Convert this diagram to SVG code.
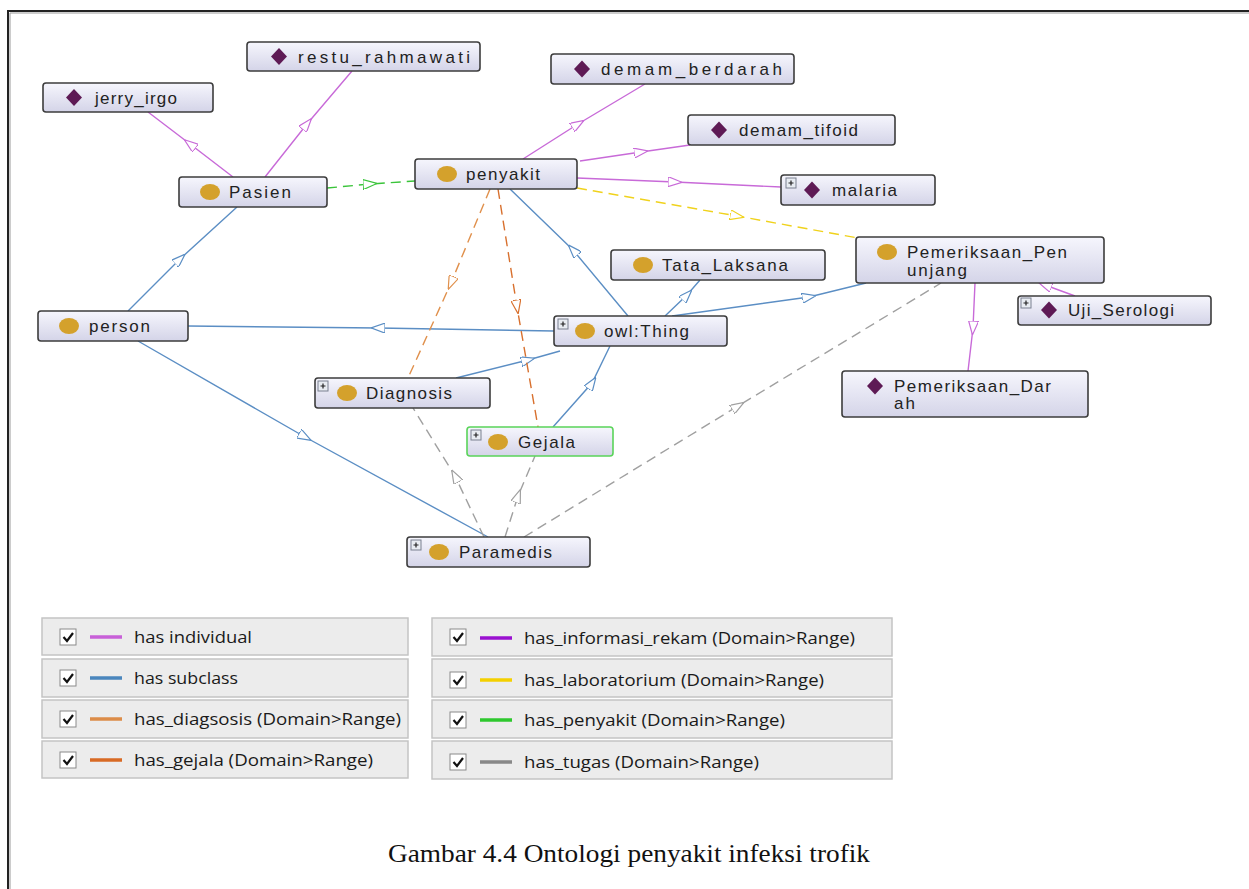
<svg xmlns="http://www.w3.org/2000/svg" width="1249" height="889" viewBox="0 0 1249 889">
<style>
.node rect.box{fill:url(#ng);stroke:#3c3c3c;stroke-width:1.6}
.lbl{font-family:"Liberation Sans",Arial,sans-serif;font-size:17px;fill:#222}
.cls{fill:#d4a12c}
.ind{fill:#5e1a55}
.plus rect{fill:#e8ecf2;stroke:#7a8090;stroke-width:1}
.plus path{stroke:#222;stroke-width:1.2}
.e{fill:none;stroke-width:1.4}
.d{stroke-dasharray:10 6}
.vi{stroke:#c86ad8;marker-mid:url(#mvi)}
.bl{stroke:#5b8ec4;marker-mid:url(#mbl)}
.o1{stroke:#e0904c;marker-mid:url(#mo1)}
.o2{stroke:#d8702e;marker-mid:url(#mo2)}
.ye{stroke:#f0d21c;marker-mid:url(#mye)}
.gr{stroke:#3ac43a;marker-mid:url(#mgr)}
.gy{stroke:#a0a0a0;marker-mid:url(#mgy)}
.panel{fill:#ececec;stroke:#c4c4c4;stroke-width:1.5}
.chk{fill:#fff;stroke:#8a8a8a;stroke-width:1}
.tick{fill:none;stroke:#111;stroke-width:2.2}
.ltx{font-family:"Open Sans","Noto Sans",sans-serif;font-size:16.5px;fill:#1a1a1a}
</style>
<defs>
<linearGradient id="ng" x1="0" y1="0" x2="0" y2="1">
<stop offset="0" stop-color="#f6f6fd"/>
<stop offset="1" stop-color="#d4d4e8"/>
</linearGradient>
<marker id="mvi" viewBox="0 0 14 10" refX="7" refY="5" markerWidth="14" markerHeight="10" markerUnits="userSpaceOnUse" orient="auto"><path d="M0,0 L14,5 L0,10 z" fill="#fff" stroke="#c86ad8" stroke-width="1.2"/></marker>
<marker id="mbl" viewBox="0 0 14 10" refX="7" refY="5" markerWidth="14" markerHeight="10" markerUnits="userSpaceOnUse" orient="auto"><path d="M0,0 L14,5 L0,10 z" fill="#fff" stroke="#5b8ec4" stroke-width="1.2"/></marker>
<marker id="mo1" viewBox="0 0 14 10" refX="7" refY="5" markerWidth="14" markerHeight="10" markerUnits="userSpaceOnUse" orient="auto"><path d="M0,0 L14,5 L0,10 z" fill="#fff" stroke="#e0904c" stroke-width="1.2"/></marker>
<marker id="mo2" viewBox="0 0 14 10" refX="7" refY="5" markerWidth="14" markerHeight="10" markerUnits="userSpaceOnUse" orient="auto"><path d="M0,0 L14,5 L0,10 z" fill="#fff" stroke="#d8702e" stroke-width="1.2"/></marker>
<marker id="mye" viewBox="0 0 14 10" refX="7" refY="5" markerWidth="14" markerHeight="10" markerUnits="userSpaceOnUse" orient="auto"><path d="M0,0 L14,5 L0,10 z" fill="#fff" stroke="#f0d21c" stroke-width="1.2"/></marker>
<marker id="mgr" viewBox="0 0 14 10" refX="7" refY="5" markerWidth="14" markerHeight="10" markerUnits="userSpaceOnUse" orient="auto"><path d="M0,0 L14,5 L0,10 z" fill="#fff" stroke="#3ac43a" stroke-width="1.2"/></marker>
<marker id="mgy" viewBox="0 0 14 10" refX="7" refY="5" markerWidth="14" markerHeight="10" markerUnits="userSpaceOnUse" orient="auto"><path d="M0,0 L14,5 L0,10 z" fill="#fff" stroke="#a0a0a0" stroke-width="1.2"/></marker>
<g id="plusicon" class="plus"><rect x="0" y="0" width="10" height="10"/><path d="M2.5,5 H7.5 M5,2.5 V7.5"/></g>
</defs>
<rect width="1249" height="889" fill="#fff"/>
<path d="M8,889 V11 H1249" fill="none" stroke="#222" stroke-width="2"/>
<path d="M10,889 V13 H1249" fill="none" stroke="#999" stroke-width="1"/>

<g id="connectors">
<path class="e vi" d="M233,177 L190,144 L148,112"/>
<path class="e vi" d="M265,177 L307,124 L352,71"/>
<path class="e vi" d="M523,159 L578,124 L645,84"/>
<path class="e vi" d="M580,161 L641,152 L690,145"/>
<path class="e vi" d="M577,178 L675,182 L781,187"/>
<path class="e vi" d="M975,283 L973,328 L968,371"/>
<path class="e vi" d="M1075,296 L1045,285 L1040,283"/>
<path class="e bl" d="M128,311 L180,259 L237,207"/>
<path class="e bl" d="M554,331 L378,328 L188,326"/>
<path class="e bl" d="M628,316 L573,250 L510,189"/>
<path class="e bl" d="M665,316 L687,295 L700,280"/>
<path class="e bl" d="M672,316 L809,297 L866,283"/>
<path class="e bl" d="M456,378 L528,360 L560,351"/>
<path class="e bl" d="M553,427 L592,383 L610,346"/>
<path class="e bl" d="M138,341 L305,437 L488,537"/>
<path class="e d o1" d="M490,189 L451,283 L408,378"/>
<path class="e d o2" d="M498,189 L517,307 L538,427"/>
<path class="e d ye" d="M577,188 L737,216 L858,238"/>
<path class="e d gr" d="M327,188 L370,184 L415,181"/>
<path class="e d gy" d="M484,537 L455,476 L413,408"/>
<path class="e d gy" d="M505,537 L518,496 L535,456"/>
<path class="e d gy" d="M524,537 L738,406 L941,283"/>
</g>

<g id="n-restu" class="node"><rect class="box" x="247" y="42" width="233" height="29" rx="3"/><path class="ind" d="M279,48 L287,56.5 L279,65 L271,56.5 z"/><text class="lbl" x="298" y="62.5" textLength="172" lengthAdjust="spacing">restu_rahmawati</text></g>
<g id="n-jerry" class="node"><rect class="box" x="43" y="83" width="170" height="29" rx="3"/><path class="ind" d="M74,89 L82,97.5 L74,106 L66,97.5 z"/><text class="lbl" x="95" y="103.5" textLength="82" lengthAdjust="spacing">jerry_irgo</text></g>
<g id="n-pasien" class="node"><rect class="box" x="179" y="177" width="148" height="30" rx="3"/><ellipse class="cls" cx="210" cy="192" rx="10" ry="8"/><text class="lbl" x="229" y="198" textLength="62" lengthAdjust="spacing">Pasien</text></g>
<g id="n-penyakit" class="node"><rect class="box" x="415" y="159" width="162" height="30" rx="3"/><ellipse class="cls" cx="447" cy="174" rx="10" ry="8"/><text class="lbl" x="466" y="180" textLength="74" lengthAdjust="spacing">penyakit</text></g>
<g id="n-dberdarah" class="node"><rect class="box" x="551" y="54" width="243" height="30" rx="3"/><path class="ind" d="M582,60.5 L590,69 L582,77.5 L574,69 z"/><text class="lbl" x="601" y="75" textLength="181" lengthAdjust="spacing">demam_berdarah</text></g>
<g id="n-dtifoid" class="node"><rect class="box" x="688" y="115" width="207" height="30" rx="3"/><path class="ind" d="M719,121.5 L727,130 L719,138.5 L711,130 z"/><text class="lbl" x="739" y="136" textLength="119" lengthAdjust="spacing">demam_tifoid</text></g>
<g id="n-malaria" class="node"><rect class="box" x="781" y="175" width="154" height="30" rx="3"/><use href="#plusicon" x="786" y="178"/><path class="ind" d="M812,181.5 L820,190 L812,198.5 L804,190 z"/><text class="lbl" x="832" y="196" textLength="65" lengthAdjust="spacing">malaria</text></g>
<g id="n-penunjang" class="node"><rect class="box" x="856" y="237" width="248" height="46" rx="3"/><ellipse class="cls" cx="887" cy="252" rx="10" ry="8"/><text class="lbl" x="907" y="258" textLength="160" lengthAdjust="spacing">Pemeriksaan_Pen</text><text class="lbl" x="907" y="276" textLength="60" lengthAdjust="spacing">unjang</text></g>
<g id="n-tata" class="node"><rect class="box" x="611" y="250" width="214" height="30" rx="3"/><ellipse class="cls" cx="643" cy="265" rx="10" ry="8"/><text class="lbl" x="662" y="271" textLength="126" lengthAdjust="spacing">Tata_Laksana</text></g>
<g id="n-person" class="node"><rect class="box" x="38" y="311" width="150" height="30" rx="3"/><ellipse class="cls" cx="69" cy="326" rx="10" ry="8"/><text class="lbl" x="89" y="332" textLength="61" lengthAdjust="spacing">person</text></g>
<g id="n-thing" class="node"><rect class="box" x="554" y="316" width="173" height="30" rx="3"/><use href="#plusicon" x="558" y="319"/><ellipse class="cls" cx="585" cy="331" rx="10" ry="8"/><text class="lbl" x="604" y="337" textLength="85" lengthAdjust="spacing">owl:Thing</text></g>
<g id="n-uji" class="node"><rect class="box" x="1018" y="296" width="193" height="29" rx="3"/><use href="#plusicon" x="1021" y="298"/><path class="ind" d="M1049,301.5 L1057,310 L1049,318.5 L1041,310 z"/><text class="lbl" x="1068" y="316" textLength="106" lengthAdjust="spacing">Uji_Serologi</text></g>
<g id="n-diagnosis" class="node"><rect class="box" x="315" y="378" width="175" height="30" rx="3"/><use href="#plusicon" x="318" y="381"/><ellipse class="cls" cx="347" cy="393" rx="10" ry="8"/><text class="lbl" x="366" y="399" textLength="86" lengthAdjust="spacing">Diagnosis</text></g>
<g id="n-darah" class="node"><rect class="box" x="842" y="371" width="246" height="46" rx="3"/><path class="ind" d="M875,377.5 L883,386 L875,394.5 L867,386 z"/><text class="lbl" x="894" y="392" textLength="157" lengthAdjust="spacing">Pemeriksaan_Dar</text><text class="lbl" x="894" y="409" textLength="21" lengthAdjust="spacing">ah</text></g>
<g id="n-gejala" class="node"><rect class="box" x="467" y="427" width="146" height="29" rx="3" style="stroke:#5ad45a"/><use href="#plusicon" x="471" y="430"/><ellipse class="cls" cx="498" cy="442" rx="10" ry="8"/><text class="lbl" x="518" y="448" textLength="57" lengthAdjust="spacing">Gejala</text></g>
<g id="n-paramedis" class="node"><rect class="box" x="407" y="537" width="183" height="30" rx="3"/><use href="#plusicon" x="411" y="540"/><ellipse class="cls" cx="439" cy="552" rx="10" ry="8"/><text class="lbl" x="459" y="558" textLength="93" lengthAdjust="spacing">Paramedis</text></g>

<g id="legend">
<rect class="panel" x="42" y="618" width="366" height="37"/>
<rect class="panel" x="42" y="659" width="366" height="38"/>
<rect class="panel" x="42" y="700" width="366" height="38"/>
<rect class="panel" x="42" y="741" width="366" height="37"/>
<rect class="panel" x="432" y="618" width="460" height="38"/>
<rect class="panel" x="432" y="659" width="460" height="38"/>
<rect class="panel" x="432" y="700" width="460" height="38"/>
<rect class="panel" x="432" y="741" width="460" height="38"/>

<rect class="chk" x="60" y="629" width="16" height="16"/><path class="tick" d="M63.5,637 L67,641 L73,633"/>
<rect class="chk" x="60" y="670" width="16" height="16"/><path class="tick" d="M63.5,678 L67,682 L73,674"/>
<rect class="chk" x="60" y="711" width="16" height="16"/><path class="tick" d="M63.5,719 L67,723 L73,715"/>
<rect class="chk" x="60" y="752" width="16" height="16"/><path class="tick" d="M63.5,760 L67,764 L73,756"/>
<rect class="chk" x="450" y="629" width="16" height="16"/><path class="tick" d="M453.5,637 L457,641 L463,633"/>
<rect class="chk" x="450" y="672" width="16" height="16"/><path class="tick" d="M453.5,680 L457,684 L463,676"/>
<rect class="chk" x="450" y="712" width="16" height="16"/><path class="tick" d="M453.5,720 L457,724 L463,716"/>
<rect class="chk" x="450" y="754" width="16" height="16"/><path class="tick" d="M453.5,762 L457,766 L463,758"/>

<path d="M90,637 H122" stroke="#c860d8" stroke-width="3.5"/>
<path d="M90,678 H122" stroke="#4a86bd" stroke-width="3.5"/>
<path d="M90,719 H122" stroke="#dc8c48" stroke-width="3.5"/>
<path d="M90,760 H122" stroke="#d86a24" stroke-width="3.5"/>
<path d="M480,638 H512" stroke="#9a10d0" stroke-width="3.5"/>
<path d="M480,680 H512" stroke="#f4d000" stroke-width="3.5"/>
<path d="M480,720 H512" stroke="#2ec82e" stroke-width="3.5"/>
<path d="M480,762 H512" stroke="#888888" stroke-width="3.5"/>

<text class="ltx" x="134" y="643" textLength="118" lengthAdjust="spacingAndGlyphs">has individual</text>
<text class="ltx" x="134" y="684" textLength="104" lengthAdjust="spacingAndGlyphs">has subclass</text>
<text class="ltx" x="134" y="725" textLength="267" lengthAdjust="spacingAndGlyphs">has_diagsosis (Domain&gt;Range)</text>
<text class="ltx" x="134" y="766" textLength="239" lengthAdjust="spacingAndGlyphs">has_gejala (Domain&gt;Range)</text>
<text class="ltx" x="524" y="644" textLength="331" lengthAdjust="spacingAndGlyphs">has_informasi_rekam (Domain&gt;Range)</text>
<text class="ltx" x="524" y="686" textLength="300" lengthAdjust="spacingAndGlyphs">has_laboratorium (Domain&gt;Range)</text>
<text class="ltx" x="524" y="726" textLength="261" lengthAdjust="spacingAndGlyphs">has_penyakit (Domain&gt;Range)</text>
<text class="ltx" x="524" y="768" textLength="235" lengthAdjust="spacingAndGlyphs">has_tugas (Domain&gt;Range)</text>
</g>

<text x="388" y="862" font-family="Liberation Serif,serif" font-size="25" fill="#111" textLength="482" lengthAdjust="spacingAndGlyphs">Gambar 4.4 Ontologi penyakit infeksi trofik</text>
</svg>
